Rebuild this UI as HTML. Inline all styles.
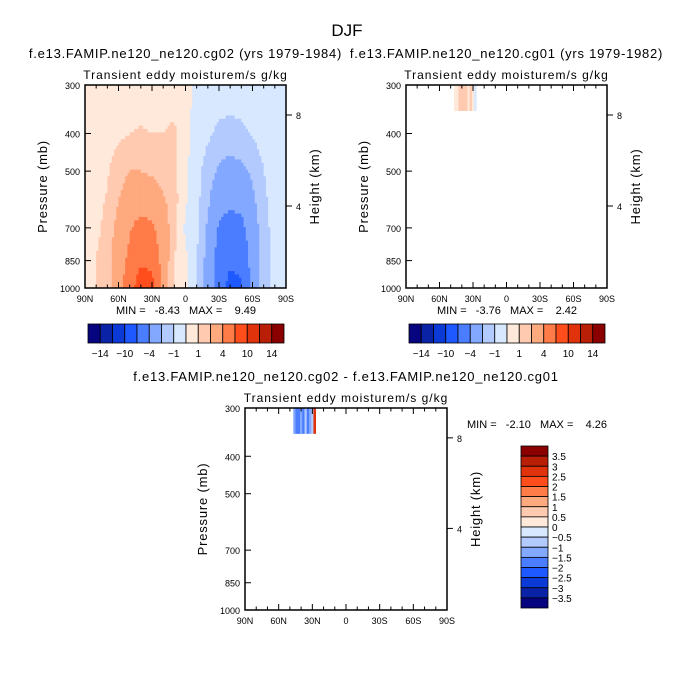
<!DOCTYPE html>
<html><head><meta charset="utf-8">
<style>
body{margin:0;background:#fff;}
svg text{font-family:"Liberation Sans",sans-serif;fill:#000;white-space:pre;}
</style></head>
<body>
<svg id="c" width="694" height="695" viewBox="0 0 694 695" xmlns="http://www.w3.org/2000/svg">
<text x="347" y="36" font-size="17" text-anchor="middle">DJF</text>
</svg>
<script>
// ---- data ----
const lats = [90,80,70,60,50,40,30,20,10,0,-10,-20,-30,-40,-50,-60,-70,-80,-90];
const levels = [300,400,500,600,700,850,1000];
const field1 = [
 [0.5,0.5,0.5,0.5,0.5,0.5,0.5,0.5,0.5,0.5,-0.3,-0.5,-0.5,-0.5,-0.5,-0.5,-0.5,-0.5,-0.5],
 [0.5,0.5,0.6,0.8,1.0,1.1,1.0,1.0,1.2,0.3,-0.5,-0.8,-1.2,-1.3,-1.2,-0.9,-0.6,-0.5,-0.5],
 [0.5,0.6,0.9,1.5,2.0,2.0,1.8,1.5,1.3,0.2,-0.6,-1.5,-2.2,-2.5,-2.3,-1.8,-1.0,-0.6,-0.5],
 [0.5,0.7,1.1,2.0,2.8,3.2,3.0,2.2,1.4,0.1,-0.7,-1.8,-3.0,-3.5,-3.2,-2.3,-1.2,-0.6,-0.5],
 [0.5,0.8,1.3,2.5,3.8,4.8,4.3,2.8,1.3,-0.2,-0.8,-2.2,-4.3,-5.2,-4.7,-2.7,-1.4,-0.6,-0.5],
 [0.5,1.0,1.5,3.0,4.5,6.5,6.0,3.0,1.0,0.2,-0.9,-2.5,-5.0,-6.5,-6.0,-3.0,-1.5,-0.6,-0.5],
 [0.5,1.0,1.3,3.0,5.5,9.0,8.5,3.0,0.8,0.2,-1.0,-2.5,-5.0,-8.2,-7.5,-3.0,-1.5,-0.6,-0.5]
];
const patchLats = [47,45,43,41,39,37,35,33,31,29];
const patchTop = 300, patchBottom = 350;
const patch2Vals = [0.3,0.7,1.2,1.6,1.4,1.0,0.8,1.1,0.6,-0.3];
const patch3Vals = [-1.4,-2.0,-1.6,-1.2,-2.0,-1.0,-1.6,-1.3,-0.6,2.5];
const levels1 = [-14,-12,-10,-7,-4,-2,-1,0,1,2,4,7,10,12,14];
const labels1 = ["-14","-10","-4","-1","1","4","10","14"];
const levels3 = [-3.5,-3,-2.5,-2,-1.5,-1,-0.5,0,0.5,1,1.5,2,2.5,3,3.5];
const colors = ["#06047f","#0a22a6","#0c3ad6","#1e58ff","#4a7dff","#82a8ff","#b3caff","#d8e8ff","#ffe9da","#ffcab0","#ffa97f","#ff7b48","#ff4d1c","#e0330c","#b81f06","#8a0000"];
// ---- helpers ----
const svg=document.getElementById('c');const NS="http://www.w3.org/2000/svg";
function mk(t,a,p){const e=document.createElementNS(NS,t);for(const k in a)e.setAttribute(k,a[k]);(p||svg).appendChild(e);return e;}
function txt(x,y,s,size,anchor,name,p,ls){const e=mk('text',{x:x,y:y,'font-size':size,'text-anchor':anchor||'start'},p);e.textContent=s;
if(ls)e.setAttribute('letter-spacing',ls);


return e;}
function colorFor(v,lev){let i=0;while(i<lev.length&&v>=lev[i])i++;return colors[i];}
function interp(lat,p){
 let li=0;while(li<lats.length-2&&lat<lats[li+1])li++;
 const tl=(lats[li]-lat)/(lats[li]-lats[li+1]);
 const lp=Math.log(p);let pi=0;while(pi<levels.length-2&&p>levels[pi+1])pi++;
 const tp=(lp-Math.log(levels[pi]))/(Math.log(levels[pi+1])-Math.log(levels[pi]));
 const a=field1[pi][li]*(1-tl)+field1[pi][li+1]*tl;
 const b=field1[pi+1][li]*(1-tl)+field1[pi+1][li+1]*tl;
 return a*(1-tp)+b*tp;}
function panel(x0,y0,w,h,title,sub,name,drawFn){
 const g=mk('g',{});
 
 
 const xOf=lat=>x0+(90-lat)/180*w;
 const yOf=p=>y0+Math.log(p/300)/Math.log(1000/300)*h;
 drawFn(g,xOf,yOf);
 mk('rect',{x:x0,y:y0,width:w,height:h,fill:'none',stroke:'#000','stroke-width':1.5},g);
 for(let lat=90;lat>=-90;lat-=10){const x=xOf(lat);const L=(lat%30===0)?6:3.5;
  mk('line',{x1:x,x2:x,y1:y0+h,y2:y0+h-L,stroke:'#000'},g);
  mk('line',{x1:x,x2:x,y1:y0,y2:y0+L,stroke:'#000'},g);
  if(lat%30===0){const s=lat===0?'0':Math.abs(lat)+(lat>0?'N':'S');txt(x,y0+h+14,s,9,'middle','x-tick-label',g);}}
 [300,400,500,700,850,1000].forEach(p=>{const y=yOf(p);mk('line',{x1:x0,x2:x0+6,y1:y,y2:y,stroke:'#000'},g);
  txt(x0-5,y+4,String(p),9,'end','y-tick-label',g);});
 [[8,30],[4,121]].forEach(([k,dy])=>{const y=y0+dy*h/203;mk('line',{x1:x0+w,x2:x0+w+6,y1:y,y2:y,stroke:'#000'},g);
  txt(x0+w+10,y+4,String(k),9,'start','height-tick-label',g);});
 const yl=txt(0,0,'Pressure (mb)',13,'middle','y-axis-title',g,0.8);yl.setAttribute('transform',`translate(${x0-38},${y0+h/2}) rotate(-90)`);
 const yr=txt(0,0,'Height (km)',13,'middle','right-axis-title',g,0.8);yr.setAttribute('transform',`translate(${x0+w+33},${y0+h/2}) rotate(-90)`);
 txt(x0+w/2,y0-6,sub,12,'middle','panel-subtitle',g,1.0);
 txt(x0+w/2,y0-27,title,13,'middle','panel-title',g,0.75);
}
function fieldDraw(g,xOf,yOf){
 for(let lat=90;lat>-90;lat-=2){for(let k=0;k<60;k++){
  const p1=300*Math.pow(1000/300,k/60),p2=300*Math.pow(1000/300,(k+1)/60);
  const v=interp(lat-1,Math.sqrt(p1*p2));
  const r=mk('rect',{x:xOf(lat),y:yOf(p1),width:xOf(lat-2)-xOf(lat)+0.4,height:yOf(p2)-yOf(p1)+0.4,fill:colorFor(v,levels1)},g);
  
  }}}
function patchDraw(vals,lev){return function(g,xOf,yOf){
 patchLats.forEach((lat,i)=>{const v=vals[i];
  const r=mk('rect',{x:xOf(lat),y:yOf(patchTop),width:xOf(lat-2)-xOf(lat)+0.3,height:yOf(patchBottom)-yOf(patchTop),fill:colorFor(v,lev)},g);
  
  });};}
panel(85,85,201,203,'f.e13.FAMIP.ne120_ne120.cg02 (yrs 1979-1984)','Transient eddy moisturem/s g/kg','panel-cg02',fieldDraw);
panel(406,85,201,203,'f.e13.FAMIP.ne120_ne120.cg01 (yrs 1979-1982)','Transient eddy moisturem/s g/kg','panel-cg01',patchDraw(patch2Vals,levels1));
panel(245,408,202,202,'f.e13.FAMIP.ne120_ne120.cg02 - f.e13.FAMIP.ne120_ne120.cg01','Transient eddy moisturem/s g/kg','panel-diff',patchDraw(patch3Vals,levels3));
txt(186,314,'MIN =   -8.43   MAX =    9.49',11,'middle','min-max-label-1');
txt(507,314,'MIN =   -3.76   MAX =    2.42',11,'middle','min-max-label-2');
txt(467,428,'MIN =   -2.10   MAX =    4.26',11,'start','min-max-label-3');
function hbar(x0,name){const g=mk('g',{});
 
 
 const bw=196/16;
 colors.forEach((c,i)=>{const r=mk('rect',{x:x0+i*bw,y:324,width:bw,height:19,fill:c,stroke:'#000','stroke-width':0.8},g);
  
  });
 labels1.forEach((s,j)=>txt(x0+(2*j+1)*bw,357,s.replace('-','\u2212'),10,'middle','colorbar-label',g));}
hbar(88,'colorbar-1');hbar(409,'colorbar-2');
(function(){const g=mk('g',{});
 
 
 const bh=162/16;
 colors.slice().reverse().forEach((c,i)=>{const r=mk('rect',{x:521,y:446+i*bh,width:27,height:bh,fill:c,stroke:'#000','stroke-width':0.8},g);
  
  });
 levels3.slice().reverse().forEach((v,i)=>txt(552,446+(i+1)*bh+4,String(v).replace('-','\u2212'),10,'start','colorbar-label',g));})();
</script>
</body></html>
